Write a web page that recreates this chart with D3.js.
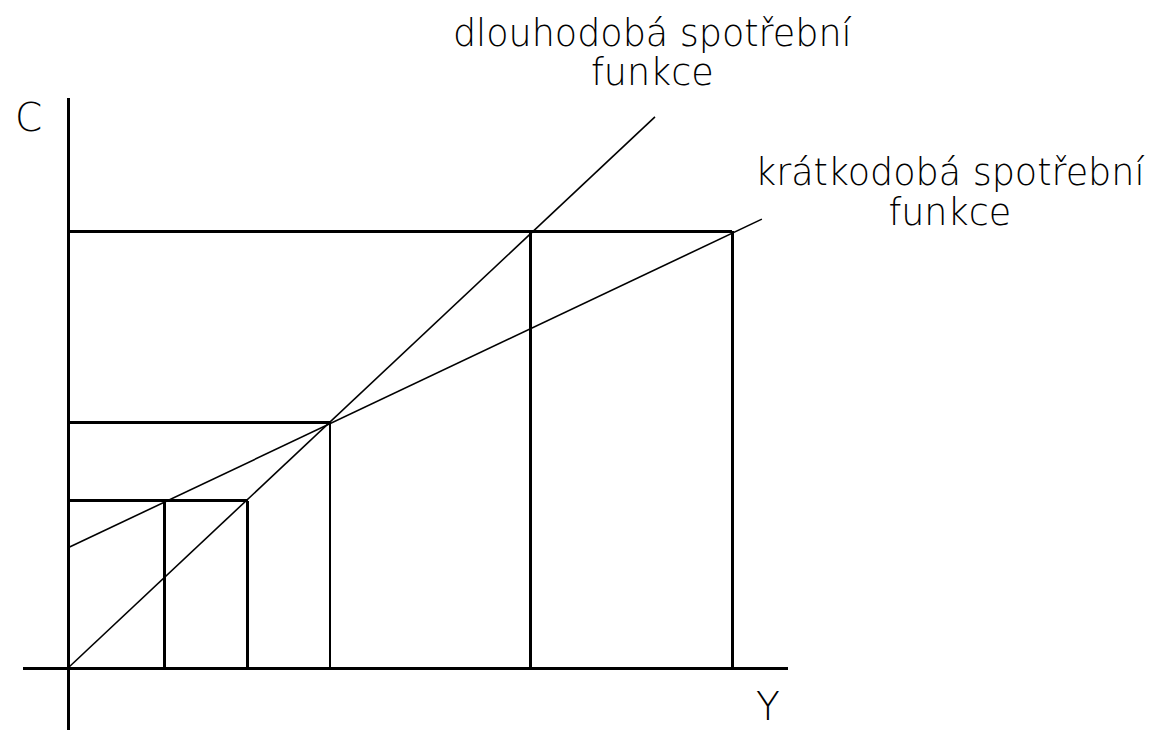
<!DOCTYPE html>
<html>
<head>
<meta charset="utf-8">
<script src="https://cdn.jsdelivr.net/npm/d3@7"></script>
<style>
    body { margin: 0; background: #fff; }
    text { font-family: "DejaVu Sans", sans-serif; font-weight: 200; fill: #000; }
</style>
</head>
<body>
<div id="chart"></div>
<script>
// income levels (Y) and consumption levels (C), in chart units
let incomeLevels = [1.46, 2.71, 3.95, 6.97, 10.0];
let consLevels = [2.52, 3.70, 6.58];
// which C level each Y level drops down from
let guideIndex = [0, 0, 1, 2, 2];
let guideWidth = [3, 3, 2, 3, 3];

// consumption functions as [Y, C] end points
let longRun = [[0, 0], [8.84, 8.30]];
let shortRun = [[0, 1.81], [10.45, 6.76]];

let labels = [
    {lines: ["dlouhodobá spotřební", "funkce"], x: 8.80, y: 9.36, gap: 39},
    {lines: ["krátkodobá spotřební", "funkce"], x: 13.28, y: 7.28, gap: 40}
];

let width = 1158, height = 731;

let x = d3.scaleLinear().domain([0, 10]).range([68, 732]);
let y = d3.scaleLinear().domain([0, 10]).range([668, 4]);

let svg = d3.select("#chart").append("svg")
    .attr("width", width)
    .attr("height", height);

// horizontal guides from the C axis
let levelOf = (i) => consLevels[guideIndex[i]];

svg.append("g").selectAll("line")
    .data(consLevels)
    .enter().append("line")
    .attr("x1", x(0))
    .attr("x2", (d) => {
        let last = d3.max(incomeLevels.filter((v, i) => levelOf(i) === d));
        return x(last);
    })
    .attr("y1", (d) => y(d))
    .attr("y2", (d) => y(d))
    .attr("stroke", "#000")
    .attr("stroke-width", 3)
    .attr("shape-rendering", "crispEdges");

// vertical guides down to the Y axis
svg.append("g").selectAll("line")
    .data(incomeLevels)
    .enter().append("line")
    .attr("x1", (d) => x(d))
    .attr("x2", (d) => x(d))
    .attr("y1", (d, i) => y(levelOf(i)))
    .attr("y2", y(0))
    .attr("stroke", "#000")
    .attr("stroke-width", (d, i) => guideWidth[i])
    .attr("shape-rendering", "crispEdges");

// consumption functions
let line = d3.line().x((d) => x(d[0])).y((d) => y(d[1]));

svg.selectAll("path.func")
    .data([longRun, shortRun])
    .enter().append("path")
    .attr("class", "func")
    .attr("d", line)
    .attr("fill", "none")
    .attr("stroke", "#000")
    .attr("stroke-width", 1.6);

// axes
svg.append("line")
    .attr("x1", x(-0.68)).attr("x2", x(10.84))
    .attr("y1", y(0)).attr("y2", y(0))
    .attr("stroke", "#000").attr("stroke-width", 3)
    .attr("shape-rendering", "crispEdges");

svg.append("line")
    .attr("x1", x(0)).attr("x2", x(0))
    .attr("y1", y(8.58)).attr("y2", y(-0.94))
    .attr("stroke", "#000").attr("stroke-width", 3)
    .attr("shape-rendering", "crispEdges");

svg.append("text")
    .attr("x", 15).attr("y", 131)
    .style("font-size", "39px")
    .text("C");

svg.append("text")
    .attr("x", 756).attr("y", 720)
    .style("font-size", "39px")
    .text("Y");

// line labels
labels.forEach((l) => {
    let t = svg.append("text")
        .attr("text-anchor", "middle")
        .style("font-size", "36.5px");
    l.lines.forEach((s, i) => {
        t.append("tspan")
            .attr("x", x(l.x))
            .attr("y", y(l.y) + i * l.gap)
            .text(s);
    });
});
</script>
</body>
</html>
